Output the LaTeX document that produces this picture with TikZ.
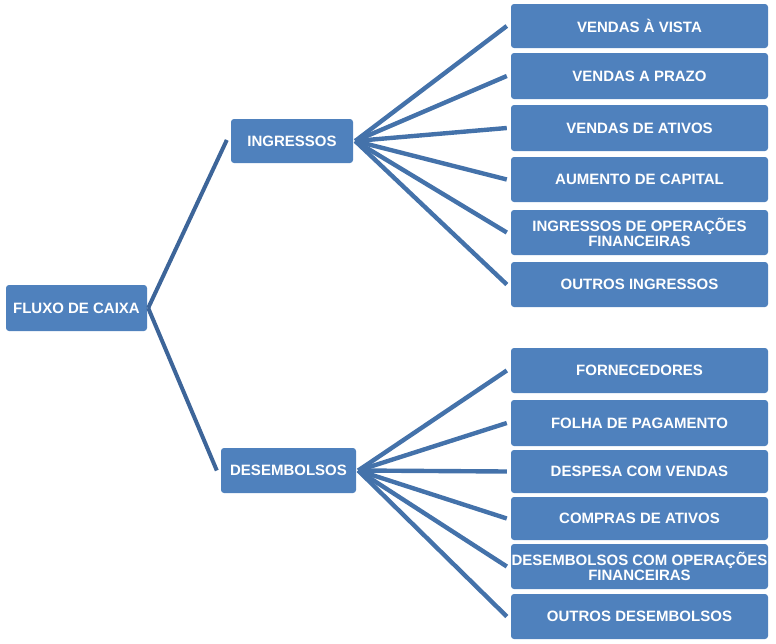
\documentclass[tikz,border=0pt]{standalone}
\usepackage{fontspec}
\setmainfont{Liberation Sans}
\begin{document}
\begin{tikzpicture}[x=1pt,y=-1pt,
  box/.style={fill=boxblue, rounded corners=3pt, text=white, font=\fontsize{15}{15.5}\selectfont\bfseries, align=center, inner sep=0pt, minimum width=#1},
  conn/.style={draw=lineblue, line width=4.4pt},
  connl/.style={draw=linedark, line width=4pt}]
\definecolor{boxblue}{HTML}{4F81BD}
\definecolor{lineblue}{HTML}{4472AA}
\definecolor{linedark}{HTML}{3D6599}
\useasboundingbox (0,0) rectangle (776,643);
\node[box=141pt, minimum height=46pt] (fc) at (76.5,308) {FLUXO DE CAIXA};
\node[box=122pt, minimum height=44pt] (ing) at (292,141) {INGRESSOS};
\node[box=135pt, minimum height=45pt] (des) at (288.5,470.5) {DESEMBOLSOS};
\node[box=257pt, minimum height=44pt] (i1) at (639.5,26) {VENDAS À VISTA};
\node[box=257pt, minimum height=46pt] (i2) at (639.5,76) {VENDAS A PRAZO};
\node[box=257pt, minimum height=46pt] (i3) at (639.5,128) {VENDAS DE ATIVOS};
\node[box=257pt, minimum height=45pt] (i4) at (639.5,179.5) {AUMENTO DE CAPITAL};
\node[box=257pt, minimum height=45pt] (i5) at (639.5,232.5) {INGRESSOS DE OPERAÇÕES\\FINANCEIRAS};
\node[box=257pt, minimum height=45pt] (i6) at (639.5,284.5) {OUTROS INGRESSOS};
\node[box=257pt, minimum height=45pt] (d1) at (639.5,370.5) {FORNECEDORES};
\node[box=257pt, minimum height=46pt] (d2) at (639.5,423) {FOLHA DE PAGAMENTO};
\node[box=257pt, minimum height=43pt] (d3) at (639.5,471.5) {DESPESA COM VENDAS};
\node[box=257pt, minimum height=43pt] (d4) at (639.5,518.5) {COMPRAS DE ATIVOS};
\node[box=257pt, minimum height=45pt] (d5) at (639.5,566.5) {DESEMBOLSOS COM OPERAÇÕES\\FINANCEIRAS};
\node[box=257pt, minimum height=45pt] (d6) at (639.5,616.5) {OUTROS DESEMBOLSOS};
\draw[connl] ([xshift=1pt]fc.east) -- ([xshift=-4pt,yshift=1pt]ing.west);
\draw[connl] ([xshift=1pt]fc.east) -- ([xshift=-4pt]des.west);
\foreach \c in {i1,i2,i3,i4,i5,i6}
  \draw[conn] ([xshift=2pt]ing.east) -- ([xshift=-4pt]\c.west);
\foreach \c in {d1,d2,d3,d4,d5,d6}
  \draw[conn] ([xshift=2pt]des.east) -- ([xshift=-4pt]\c.west);
\end{tikzpicture}
\end{document}
